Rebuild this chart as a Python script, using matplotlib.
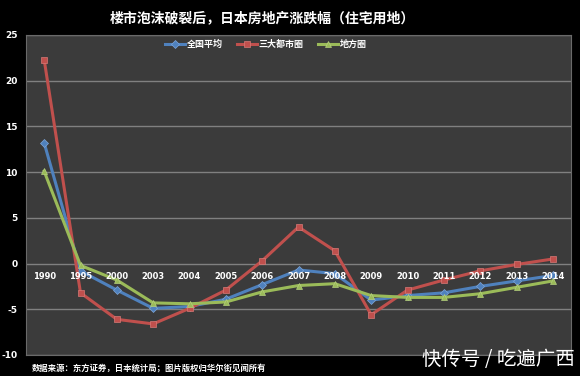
import matplotlib
matplotlib.use("Agg")
import matplotlib.pyplot as plt

plt.rcParams['font.family'] = ['Noto Sans CJK SC', 'DejaVu Sans']

years = ['1990', '1995', '2000', '2003', '2004', '2005', '2006', '2007',
         '2008', '2009', '2010', '2011', '2012', '2013', '2014']
national = [13.2, -0.8, -2.9, -4.9, -4.7, -3.9, -2.3, -0.7, -1.1, -4.0, -3.5, -3.2, -2.5, -1.9, -1.3]
metro = [22.3, -3.2, -6.1, -6.6, -4.9, -2.9, 0.3, 4.0, 1.4, -5.6, -2.9, -1.8, -0.8, -0.1, 0.5]
regional = [10.1, -0.2, -1.8, -4.3, -4.4, -4.2, -3.1, -2.4, -2.2, -3.5, -3.7, -3.7, -3.3, -2.6, -1.9]
series_names = ['全国平均', '三大都市圈', '地方圈']
yticks = [25, 20, 15, 10, 5, 0, -5, -10]

title = '楼市泡沫破裂后，日本房地产涨跌幅（住宅用地）'
footer = '数据来源：东方证券，日本统计局；图片版权归华尔街见闻所有'
watermark = '快传号 / 吃遍广西'

fig = plt.figure(figsize=(5.8, 3.76), dpi=100, facecolor='black')
ax = fig.add_axes([26/580, 21/376, 545/580, 320/376])
ax.set_facecolor('#3b3b3b')

x = list(range(len(years)))
ax.set_xlim(-0.5, len(years) - 0.5)
ax.set_ylim(-10, 25)

for y in yticks:
    ax.axhline(y, color='#808080', lw=1.0, zorder=1)

styles = [
    (national, '#4f81bd', 'D', 4.5, '#7fa6d8'),
    (metro, '#c0504d', 's', 5, '#d77a77'),
    (regional, '#9bbb59', '^', 5, '#b5d07e'),
]
for (vals, col, mk, ms, ec), name in zip(styles, series_names):
    ax.plot(x, vals, color=col, lw=2.2, marker=mk, markersize=ms,
            markerfacecolor=col, markeredgecolor=ec,
            markeredgewidth=0.5, label=name, zorder=3)

for xi, lab in zip(x, years):
    ax.text(xi, -1.4, lab, color='white', fontsize=6, fontweight='bold',
            ha='center', va='center', family=['DejaVu Sans'], zorder=4)

ax.set_xticks([])
ax.set_yticks(yticks)
ax.set_yticklabels([str(v) for v in yticks], color='white', fontsize=6.5,
                   fontweight='bold', family=['DejaVu Sans'])
ax.tick_params(axis='y', length=0, pad=6)
for s in ax.spines.values():
    s.set_color('#6a6a6a')
    s.set_linewidth(0.8)

leg = ax.legend(loc='upper center', ncol=3, frameon=False, fontsize=6.5,
                bbox_to_anchor=(0.44, 1.01), handlelength=2.2, columnspacing=1.6,
                handletextpad=0.2)
for t in leg.get_texts():
    t.set_color('white')
    t.set_fontweight('bold')

fig.text(262/580, 1 - 18/376, title, color='white', fontsize=10, fontweight='bold',
         ha='center', va='center')
fig.text(32/580, 1 - 368/376, footer, color='white', fontsize=6,
         fontweight='bold', ha='left', va='center')
fig.text(575/580, 1 - 360/376, watermark, color='white', fontsize=14,
         ha='right', va='center')

fig.savefig('out.png', dpi=100, facecolor='black')
